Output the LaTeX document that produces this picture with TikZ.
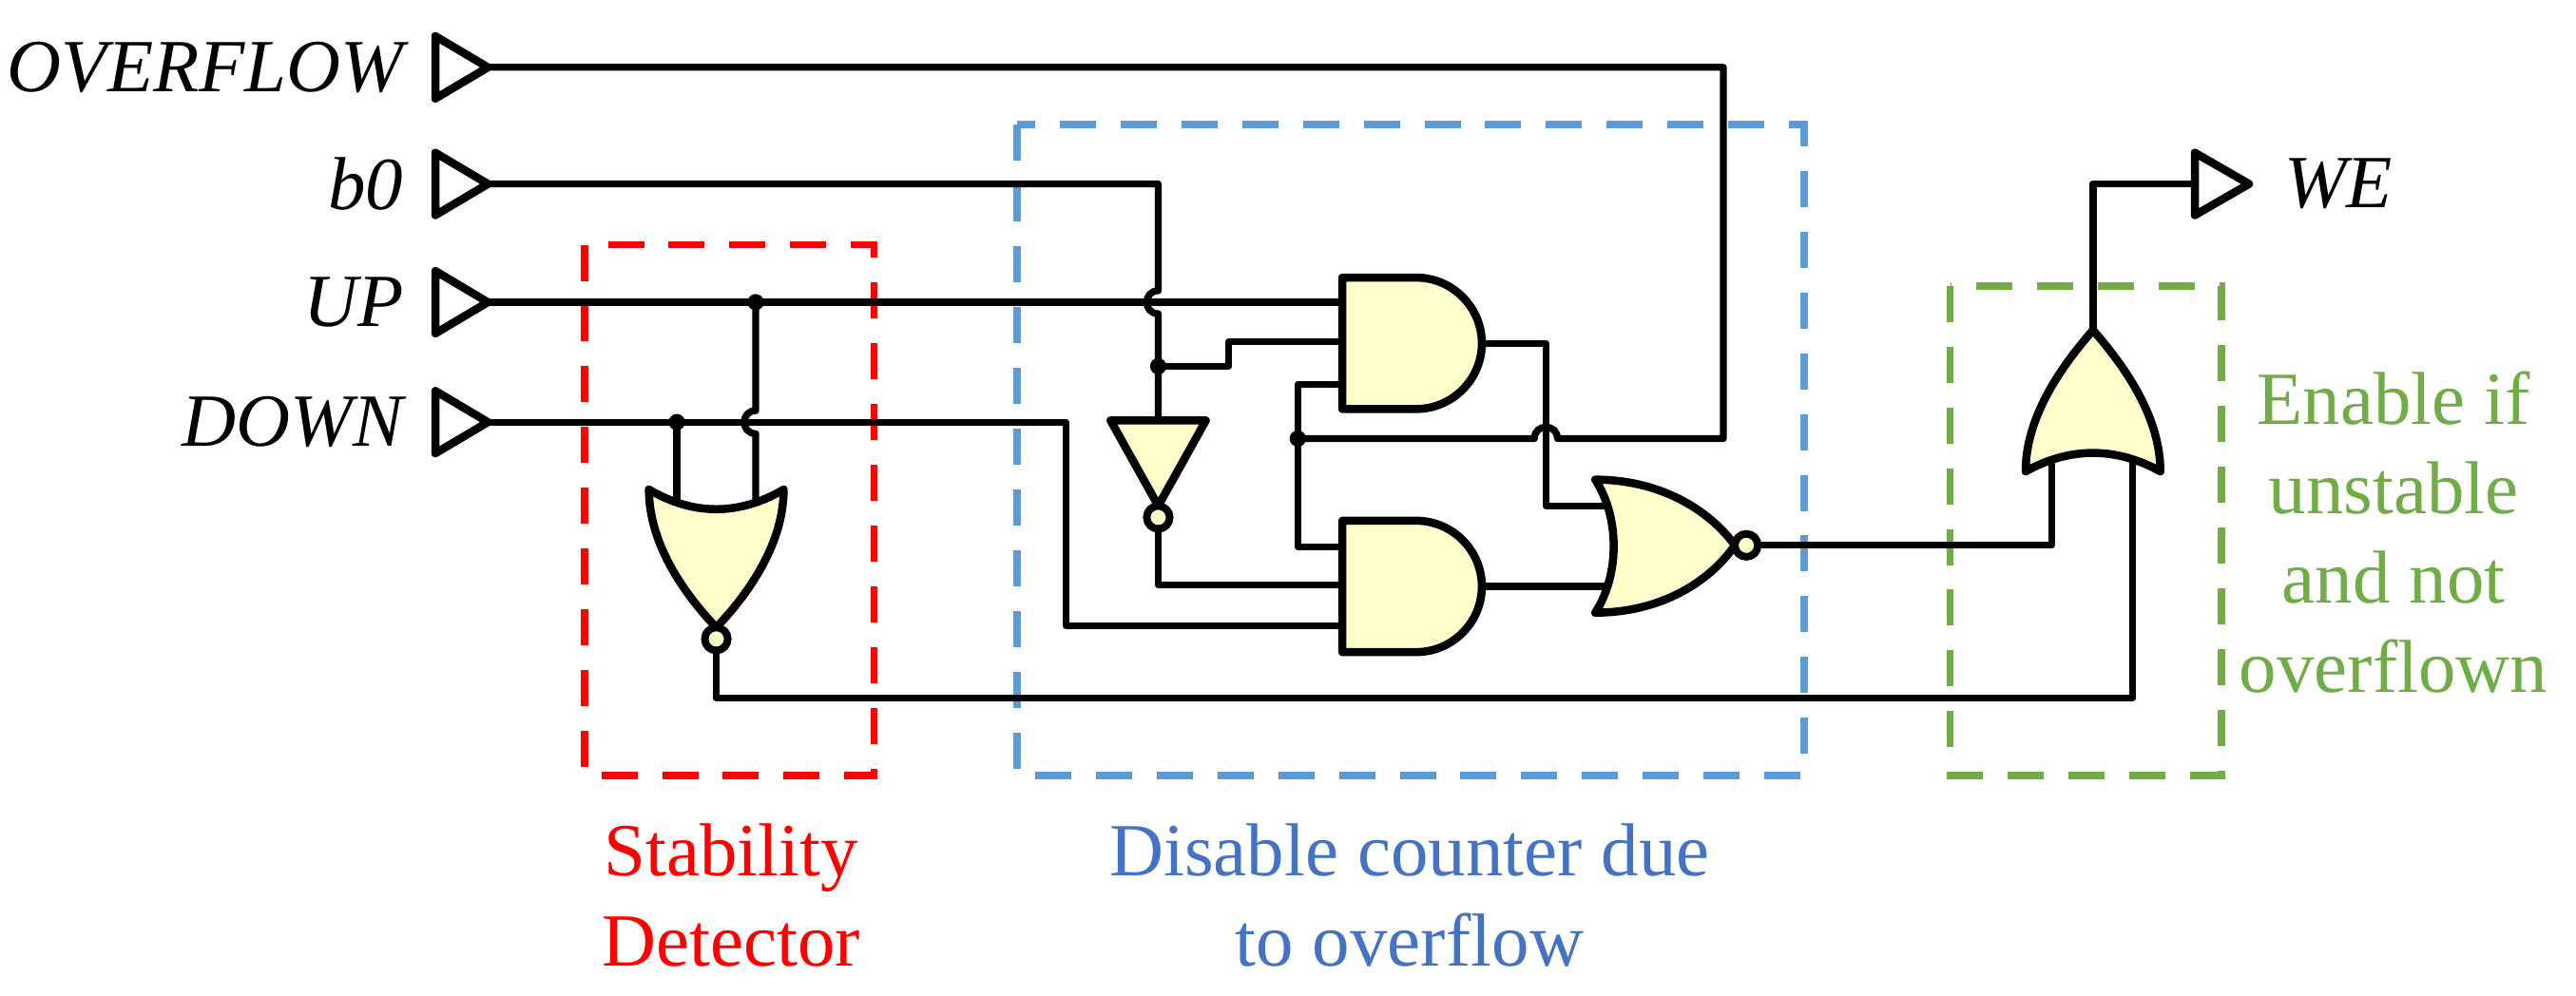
\documentclass[tikz,border=0pt]{standalone}
\usepackage{fontspec}
\setmainfont{Liberation Serif}
\begin{document}
\begin{tikzpicture}[x=0.1mm,y=-0.1mm,
  wire/.style={line width=1.2pt,line join=round},
  gate/.style={line width=1.4pt,fill=gatefill,line join=round},
  pin/.style={line width=1.4pt,fill=white,line join=round},
  bub/.style={line width=1.3pt,fill=gatefill},
  dot/.style={fill=black},
  box/.style={line width=1.3pt,dash pattern=on 2.2mm off 1.5mm},
  lbl/.style={font=\fontsize{13}{15}\selectfont\itshape,anchor=east},
  captxt/.style={font=\fontsize{13}{15.5}\selectfont,align=center}]
\definecolor{gatefill}{RGB}{255,255,204}
\definecolor{bbox}{RGB}{91,155,213}
\definecolor{btext}{RGB}{68,114,196}
\definecolor{gcol}{RGB}{112,173,71}
\useasboundingbox (0,0) rectangle (1568,606);
% boxes
\draw[box,red] (356,149) rectangle (532,472);
\draw[box,bbox] (619,76) rectangle (1098,472);
\draw[box,gcol] (1187,174) rectangle (1352,472);
% pins and labels
\foreach \n/\y/\t in {ov/41/OVERFLOW,b0/112/b0,up/184/UP,dn/257/DOWN}{
  \draw[pin] (265,\y-19) -- (297,\y) -- (265,\y+19) -- cycle;
  \coordinate (\n) at (297,\y);
  \node[lbl] (l\n) at (258,\y) {\t};
}
\draw[pin] (1336,93) -- (1369,112) -- (1336,131) -- cycle;
\coordinate (wein) at (1336,112);
\node[lbl,anchor=west] (lwe) at (1378,112) {WE};
% gates
\draw[gate] (817,169) -- (862,169) .. controls (884,169) and (902,187) .. (902,209) .. controls (902,231) and (884,249) .. (862,249) -- (817,249) -- cycle;
\draw[gate] (817,317) -- (862,317) .. controls (884,317) and (902,335) .. (902,357) .. controls (902,379) and (884,397) .. (862,397) -- (817,397) -- cycle;
\draw[gate] (971,292) .. controls (1010,292) and (1040,310) .. (1056,332) .. controls (1040,355) and (1010,373) .. (971,373) .. controls (986,350) and (986,315) .. (971,292) -- cycle;
\draw[bub] (1063,332) circle (7);
\draw[gate] (395,298) .. controls (395,330) and (415,360) .. (436,382) .. controls (457,360) and (477,330) .. (477,298) .. controls (450,314) and (422,314) .. (395,298) -- cycle;
\draw[bub] (436,389) circle (7);
\draw[gate] (1233,287) .. controls (1233,255) and (1253,225) .. (1274,201) .. controls (1295,225) and (1315,255) .. (1315,287) .. controls (1288,272) and (1260,272) .. (1233,287) -- cycle;
\draw[gate] (676,256) -- (734,256) -- (705,308) -- cycle;
\draw[bub] (705,315) circle (7);
% junction coordinates
\coordinate (jup) at (460,184);
\coordinate (jdn) at (412,257);
\coordinate (jb0) at (705,223);
\coordinate (jov) at (790,267);
% wires
\draw[wire] (ov) -- (1049,41) -- (1049,267) -- (948,267) .. controls (948,257.7) and (934,257.7) .. (934,267) -- (jov);
\draw[wire] (b0) -- (705,112) -- (705,177) .. controls (695.7,177) and (695.7,191) .. (705,191) -- (jb0) -- (705,256);
\draw[wire] (jb0) -- (748,223) -- (748,208) -- (817,208);
\draw[wire] (up) -- (817,184);
\draw[wire] (jup) -- (460,250) .. controls (450.7,250) and (450.7,264) .. (460,264) -- (460,304);
\draw[wire] (dn) -- (649,257) -- (649,381) -- (817,381);
\draw[wire] (jdn) -- (412,305);
\draw[wire] (705,322) -- (705,356) -- (817,356);
\draw[wire] (817,234) -- (790,234) -- (790,333) -- (817,333);
\draw[wire] (902,209) -- (941,209) -- (941,308) -- (978,308);
\draw[wire] (902,357) -- (980,357);
\draw[wire] (1070,332) -- (1249,332) -- (1249,281);
\draw[wire] (436,396) -- (436,425) -- (1298,425) -- (1298,281);
\draw[wire] (1274,201) -- (1274,112) -- (wein);
% dots
\foreach \c in {jup,jdn,jb0,jov} \fill[dot] (\c) circle (5);
% captions
\node[captxt,text=red] (c1) at (445,545) {Stability\\Detector};
\node[captxt,text=btext] (c2) at (858,545) {Disable counter due\\to overflow};
\node[captxt,text=gcol] (c3) at (1457,324) {Enable if\\unstable\\and not\\overflown};
\end{tikzpicture}
\end{document}
